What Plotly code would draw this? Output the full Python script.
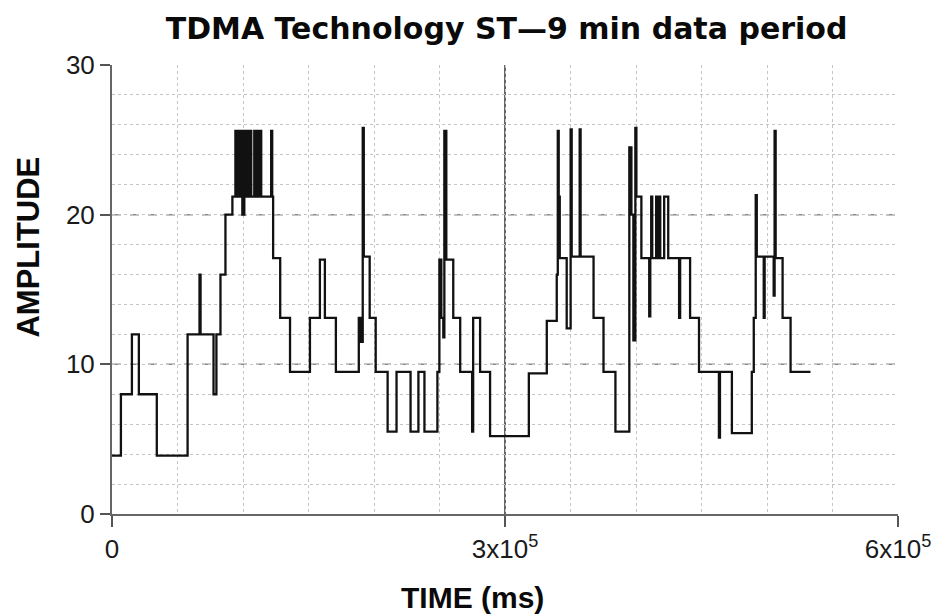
import plotly.graph_objects as go

# ---- data ----
TIME_MS = [
    0, 6800, 15200, 20500, 34200, 57700, 66800, 67600, 77500, 79700,
    82800, 86600, 91900, 94200, 94900, 96500, 97200, 98700, 99500, 101000,
    101800, 103300, 104100, 105600, 106300, 108600, 109400, 110900, 111600, 113200,
    113900, 121500, 122300, 123000, 128400, 135900, 151100, 158700, 162500, 170900,
    188400, 189900, 191400, 192200, 196700, 201300, 210400, 217200, 227900, 233900,
    238500, 248400, 249900, 251400, 252900, 253700, 255200, 260500, 265800, 274900,
    275700, 281000, 288600, 318200, 331900, 339500, 340300, 341000, 341800, 347100,
    350100, 350900, 357000, 357700, 367600, 375200, 384300, 394900, 396500, 398000,
    399500, 400300, 404100, 410100, 410900, 411600, 412400, 415400, 416200, 417700,
    418500, 421500, 424600, 432900, 433700, 441300, 448100, 463300, 464100, 473200,
    488400, 489900, 491400, 492200, 497500, 498200, 505100, 505800, 506600, 511900,
    518000, 533200,
]
AMPLITUDE = [
    3.9, 8.0, 12.0, 8.0, 3.9, 12.0, 16.0, 12.0, 8.0, 12.0,
    16.0, 20.0, 21.2, 25.6, 21.2, 25.6, 21.2, 25.6, 20.0, 25.6,
    21.2, 25.6, 21.2, 25.6, 21.2, 25.6, 21.2, 25.6, 21.2, 25.6,
    21.2, 25.6, 21.2, 17.1, 13.1, 9.5, 13.1, 17.0, 13.1, 9.5,
    13.1, 11.5, 25.8, 17.2, 13.1, 9.5, 5.5, 9.5, 5.5, 9.5,
    5.5, 9.5, 17.0, 13.1, 11.8, 25.6, 17.0, 13.1, 9.5, 5.5,
    13.1, 9.5, 5.2, 9.4, 12.9, 16.0, 25.6, 21.2, 17.1, 12.4,
    25.7, 17.2, 25.7, 17.2, 13.1, 9.5, 5.5, 24.5, 20.0, 11.6,
    25.8, 21.2, 17.1, 13.2, 17.1, 21.2, 17.1, 21.2, 17.1, 21.2,
    17.1, 21.2, 17.1, 13.1, 17.1, 13.1, 9.5, 5.1, 9.5, 5.4,
    9.5, 13.1, 21.3, 17.2, 13.1, 17.2, 14.6, 25.6, 17.1, 13.1,
    9.5, 9.5,
]
X_TICKS = [0, 300000, 600000]
X_TICK_TEXT = ["0", "3x10<sup>5</sup>", "6x10<sup>5</sup>"]
Y_TICKS = [0, 10, 20, 30]
Y_TICK_TEXT = ["0", "10", "20", "30"]
MAJOR_Y_GRID = [10, 20]
MAJOR_X_GRID = [300000]

TITLE = "TDMA Technology ST\u20149 min data period"
X_TITLE = "TIME (ms)"
Y_TITLE = "AMPLITUDE"

FONT = "Liberation Sans, Arial, sans-serif"

fig = go.Figure(
    go.Scatter(
        x=TIME_MS, y=AMPLITUDE, mode="lines",
        line=dict(shape="hv", color="#111111", width=2.3),
        hoverinfo="skip",
    )
)

shapes = []
for yv in MAJOR_Y_GRID:
    shapes.append(dict(type="line", xref="paper", x0=0, x1=1, yref="y", y0=yv, y1=yv,
                       line=dict(color="#8a8a8a", width=1.5, dash="dash"), layer="below"))
for xv in MAJOR_X_GRID:
    shapes.append(dict(type="line", yref="paper", y0=0, y1=1, xref="x", x0=xv, x1=xv,
                       line=dict(color="#333333", width=1.5), layer="below"))

fig.update_layout(
    width=943, height=614,
    margin=dict(l=112, r=42, t=65, b=100),
    paper_bgcolor="white", plot_bgcolor="white",
    showlegend=False,
    font=dict(family=FONT, color="#1a1a1a"),
    title=dict(
        text=TITLE,
        font=dict(family="DejaVu Sans", size=30, color="#0a0a0a", weight="bold"),
        x=0.502, xref="paper", xanchor="center",
        y=0.953, yref="container", yanchor="middle",
    ),
    shapes=shapes,
    annotations=[
        dict(text=Y_TITLE, textangle=-90, showarrow=False,
             xref="paper", yref="paper", x=-0.106, y=0.595,
             xanchor="center", yanchor="middle",
             font=dict(family=FONT, size=31, color="#0a0a0a", weight="bold")),
        dict(text=X_TITLE, showarrow=False,
             xref="paper", yref="paper", x=0.459, y=-0.187,
             xanchor="center", yanchor="middle",
             font=dict(family=FONT, size=30, color="#0a0a0a", weight="bold")),
    ],
)

fig.update_xaxes(
    range=[0, 600000],
    tickmode="array", tickvals=X_TICKS, ticktext=X_TICK_TEXT,
    ticks="outside", ticklen=11, tickwidth=2, tickcolor="#555555",
    tickfont=dict(family=FONT, size=26, color="#1a1a1a"),
    showline=True, linecolor="#666666", linewidth=2,
    showgrid=False, zeroline=False,
    minor=dict(dtick=50000, tick0=0, showgrid=True, gridcolor="#c4c4c4",
               griddash="dot", gridwidth=1, ticks=""),
)
fig.update_yaxes(
    range=[0, 30],
    tickmode="array", tickvals=Y_TICKS, ticktext=Y_TICK_TEXT,
    ticks="outside", ticklen=10, tickwidth=2, tickcolor="#555555",
    tickfont=dict(family=FONT, size=26, color="#1a1a1a"),
    showline=True, linecolor="#666666", linewidth=2,
    showgrid=False, zeroline=False,
    minor=dict(dtick=2, tick0=0, showgrid=True, gridcolor="#c4c4c4",
               griddash="dot", gridwidth=1, ticks=""),
)

fig.write_html("out.html")
